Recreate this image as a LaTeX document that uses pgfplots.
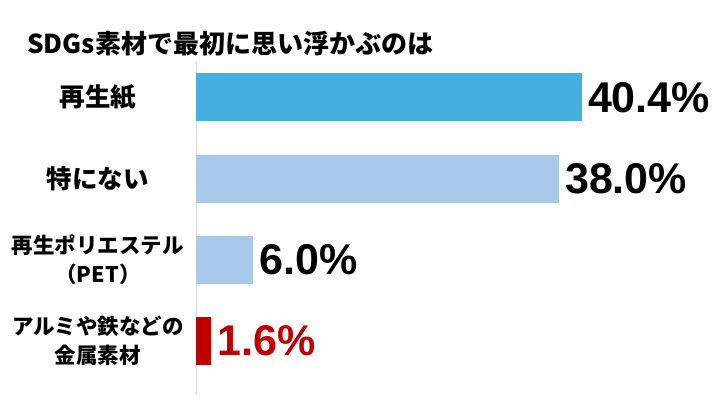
\documentclass[border=0pt]{standalone}
\usepackage{pgfplots}
\pgfplotsset{compat=1.18}
\usepackage{fontspec}
\setmainfont{Noto Sans CJK JP}
\newfontfamily\numfont{Liberation Sans}

\definecolor{barblue}{HTML}{45AFDF}
\definecolor{barlight}{HTML}{A9C9EB}
\definecolor{barred}{HTML}{C00000}
\definecolor{axisgray}{HTML}{D9D9D9}

\begin{document}
\begin{tikzpicture}[x=1bp,y=1bp]
\path[use as bounding box] (0,0) rectangle (720,405);
\node[anchor=west, inner sep=0pt, font=\fontsize{26bp}{30bp}\selectfont\bfseries]
  at (27,361) {SDGs素材で最初に思い浮かぶのは};
\begin{axis}[
  at={(196bp,11bp)}, anchor=south west,
  scale only axis, width=477.5bp, height=332bp,
  xmin=0, xmax=50, ymin=-0.438, ymax=3.66,
  y dir=reverse,
  axis x line=none,
  axis y line*=left,
  y axis line style={axisgray, line width=1bp, -},
  ytick={0,1,2,3},
  yticklabels={
    {\fontsize{25.5bp}{30bp}\selectfont 再生紙},
    {\fontsize{25.5bp}{30bp}\selectfont 特にない},
    {\fontsize{21.5bp}{26bp}\selectfont 再生ポリエステル\\[7bp]（PET）},
    {\fontsize{21.5bp}{26bp}\selectfont アルミや鉄などの\\[7bp]金属素材}},
  major tick length=0pt,
  yticklabel style={font=\bfseries, align=center, text width=200bp,
    inner sep=0pt, anchor=center, xshift=-98bp},
  xbar, bar width=48bp, bar shift=0pt,
  nodes near coords, point meta=explicit symbolic,
  every node near coord/.append style={anchor=west, inner sep=0pt, xshift=6bp,
    font=\numfont\bfseries\fontsize{43bp}{48bp}\selectfont},
]
\addplot[fill=barblue, draw=none, every node near coord/.append style={black}]
  coordinates {(40.4,0) [40.4\%]};
\addplot[fill=barlight, draw=none, every node near coord/.append style={black}]
  coordinates {(38.0,1) [38.0\%]};
\addplot[fill=barlight, draw=none, every node near coord/.append style={black}]
  coordinates {(6.0,2) [6.0\%]};
\addplot[fill=barred, draw=none, every node near coord/.append style={barred}]
  coordinates {(1.6,3) [1.6\%]};
\end{axis}
\end{tikzpicture}
\end{document}
